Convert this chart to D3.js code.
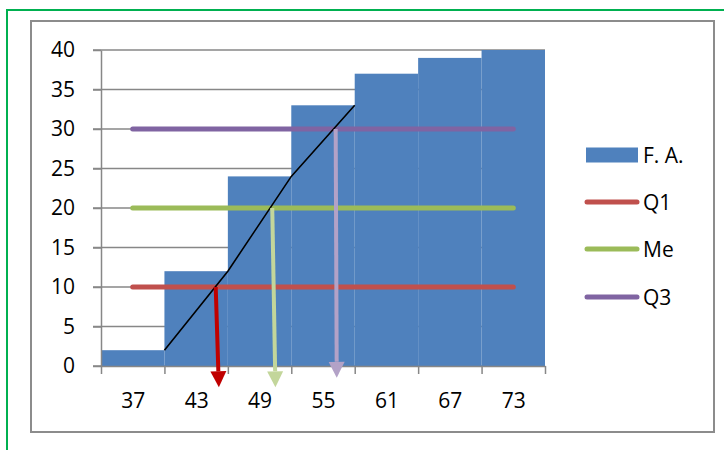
<!DOCTYPE html>
<html>
<head>
<meta charset="utf-8">
<script src="https://cdn.jsdelivr.net/npm/d3@7"></script>
<style>
  html, body { margin: 0; padding: 0; background: #fff; }
  svg { display: block; }
  text { font-family: "Open Sans", "Noto Sans", sans-serif; fill: #000; }
</style>
</head>
<body>
<svg id="chart" width="724" height="450"></svg>
<script>
// ---- data ----
const classMarks = [37, 43, 49, 55, 61, 67, 73];
const cumFreq = [2, 12, 24, 33, 37, 39, 40];           // F. A.
const classWidth = 6;
const yTicks = [0, 5, 10, 15, 20, 25, 30, 35, 40];
const ogiveX = [40, 46, 52, 58];
const ogiveY = [2, 12, 24, 33];
const quartileNames = ["Q1", "Me", "Q3"];
const quartileLevels = [10, 20, 30];
const quartileColors = ["#C0504D", "#9BBB59", "#8064A2"];
const arrowStartX = [44.85, 50.2, 56.2];
const arrowEndX = [45.15, 50.5, 56.3];
const arrowEndY = [-2.7, -2.7, -1.5];
const arrowColors = ["#C00000", "#C3D69B", "#B3A2C7"];
const barColor = "#4F81BD";
const gridColor = "#878787";

// ---- layout ----
const svg = d3.select("#chart");
const plotL = 101, plotR = 545, plotT = 50, plotB = 366;

const x = d3.scaleLinear()
  .domain([classMarks[0] - classWidth / 2, classMarks[classMarks.length - 1] + classWidth / 2])
  .range([plotL, plotR]);
const y = d3.scaleLinear().domain([0, 40]).range([plotB, plotT]);

// outer frames
svg.append("rect").attr("x", 7).attr("y", 10).attr("width", 740).attr("height", 470)
  .attr("fill", "none").attr("stroke", "#00B050").attr("stroke-width", 2);
svg.append("rect").attr("x", 31).attr("y", 21).attr("width", 683).attr("height", 411)
  .attr("fill", "none").attr("stroke", "#8C8C8C").attr("stroke-width", 2);

// gridlines
svg.append("g").selectAll("line").data(yTicks).join("line")
  .attr("x1", plotL - 8).attr("x2", plotR)
  .attr("y1", d => y(d)).attr("y2", d => y(d))
  .attr("stroke", gridColor).attr("stroke-width", 1.5);

// bars
svg.append("g").selectAll("rect").data(classMarks).join("rect")
  .attr("x", d => x(d - classWidth / 2))
  .attr("width", d => x(d + classWidth / 2) - x(d - classWidth / 2))
  .attr("y", (d, i) => y(cumFreq[i]))
  .attr("height", (d, i) => y(0) - y(cumFreq[i]))
  .attr("fill", barColor);

// y axis
const yAxis = svg.append("g").attr("transform", `translate(${plotL},0)`)
  .call(d3.axisLeft(y).tickValues(yTicks).tickSize(8).tickSizeOuter(0).tickPadding(18));
yAxis.select(".domain").attr("stroke", gridColor).attr("stroke-width", 1.5);
yAxis.selectAll(".tick line").attr("stroke", gridColor).attr("stroke-width", 1.5);
yAxis.selectAll("text").style("font-size", "21px").attr("font-family", null);

// x axis (ticks at class boundaries)
const bounds = classMarks.map(d => d - classWidth / 2).concat([classMarks[classMarks.length - 1] + classWidth / 2]);
const xAxis = svg.append("g").attr("transform", `translate(0,${plotB})`)
  .call(d3.axisBottom(x).tickValues(bounds).tickSize(8).tickSizeOuter(0).tickFormat(""));
xAxis.select(".domain").attr("stroke", gridColor).attr("stroke-width", 1.5);
xAxis.selectAll(".tick line").attr("stroke", gridColor).attr("stroke-width", 1.5);

// x labels at class marks
const xLab = svg.append("g").attr("transform", `translate(0,${plotB})`)
  .call(d3.axisBottom(x).tickValues(classMarks).tickSize(0).tickPadding(27).tickFormat(d3.format("d")));
xLab.select(".domain").remove();
xLab.selectAll("text").style("font-size", "21px").attr("font-family", null);

// quartile horizontal lines
svg.append("g").selectAll("line").data(quartileLevels).join("line")
  .attr("x1", x(classMarks[0])).attr("x2", x(classMarks[classMarks.length - 1]))
  .attr("y1", d => y(d)).attr("y2", d => y(d))
  .attr("stroke", (d, i) => quartileColors[i]).attr("stroke-width", 5)
  .attr("stroke-linecap", "round");

// ogive
svg.append("path")
  .datum(ogiveX.map((d, i) => [d, ogiveY[i]]))
  .attr("d", d3.line().x(d => x(d[0])).y(d => y(d[1])))
  .attr("fill", "none").attr("stroke", "#000").attr("stroke-width", 1.6);

// arrows
const headLen = 16, headW = 16;
const ag = svg.append("g");
quartileLevels.forEach((lv, i) => {
  const x0 = x(arrowStartX[i]), y0 = y(lv);
  const x1 = x(arrowEndX[i]), y1 = y(arrowEndY[i]);
  const ang = Math.atan2(y1 - y0, x1 - x0);
  const bx = x1 - headLen * Math.cos(ang), by = y1 - headLen * Math.sin(ang);
  ag.append("line").attr("x1", x0).attr("y1", y0).attr("x2", bx).attr("y2", by)
    .attr("stroke", arrowColors[i]).attr("stroke-width", 4);
  const px = -Math.sin(ang) * headW / 2, py = Math.cos(ang) * headW / 2;
  ag.append("path")
    .attr("d", `M${x1},${y1}L${bx + px},${by + py}L${bx - px},${by - py}Z`)
    .attr("fill", arrowColors[i]);
});

// legend
const legNames = ["F. A."].concat(quartileNames);
const legY = [155, 202, 249, 297];
const lg = svg.append("g");
lg.append("rect").attr("x", 586).attr("y", legY[0] - 7.5).attr("width", 52).attr("height", 15)
  .attr("fill", barColor);
quartileNames.forEach((n, i) => {
  lg.append("line").attr("x1", 587).attr("x2", 637)
    .attr("y1", legY[i + 1]).attr("y2", legY[i + 1])
    .attr("stroke", quartileColors[i]).attr("stroke-width", 5).attr("stroke-linecap", "round");
});
lg.selectAll("text").data(legNames).join("text")
  .attr("x", 643).attr("y", (d, i) => legY[i]).attr("dy", "0.36em")
  .style("font-size", "21px").text(d => d);
</script>
</body>
</html>
